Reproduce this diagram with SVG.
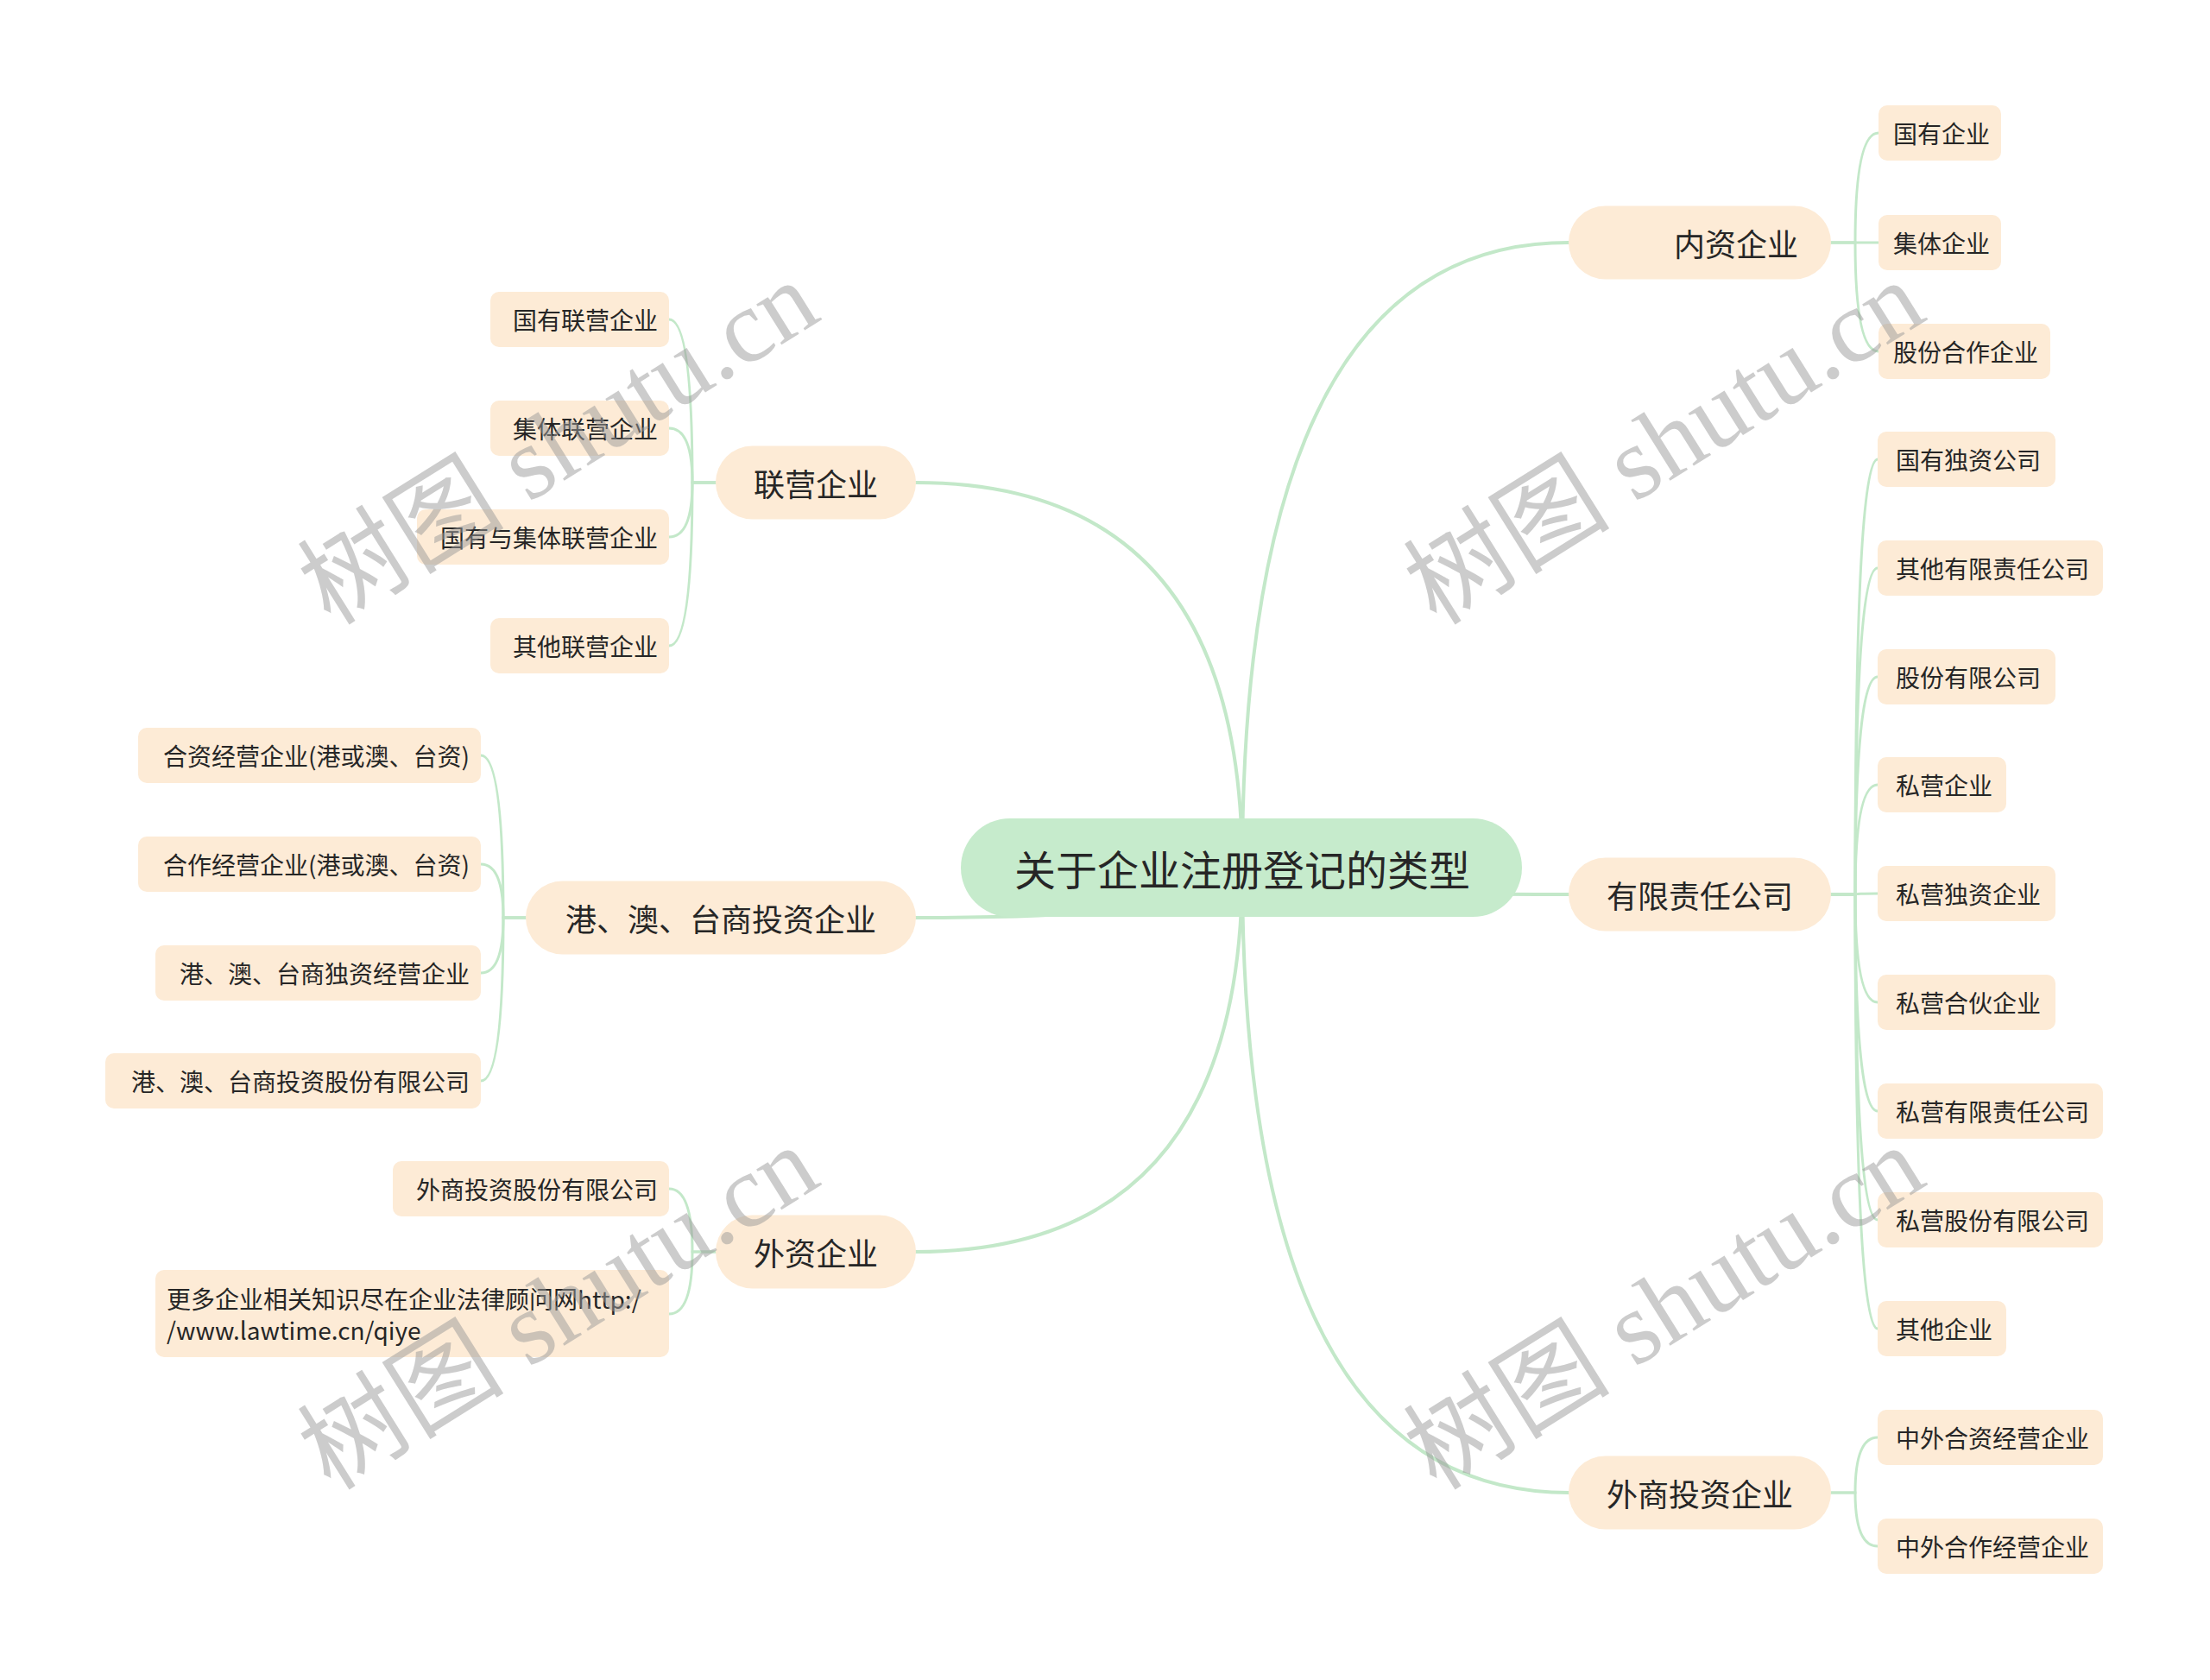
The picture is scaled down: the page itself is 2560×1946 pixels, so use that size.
<svg xmlns="http://www.w3.org/2000/svg" width="2560" height="1946" viewBox="0 0 2560 1946">
<style>
.c1{fill:none;stroke:#c3e8c9;stroke-width:4;stroke-linecap:round}
.c2{fill:none;stroke:#c3e8c9;stroke-width:3;stroke-linecap:round}
.n{fill:#fdebd6}
.r{fill:#c6ebcc}
.t{font-family:"Noto Sans CJK SC","Liberation Sans",sans-serif;fill:#262626;dominant-baseline:central}
.t0{font-size:48px}
.t1{font-size:36px}
.t2{font-size:28px}
.wm{font-family:"Liberation Serif","Noto Sans CJK SC",serif;font-size:120px;fill:#9a9a9a;opacity:.5;text-anchor:middle;dominant-baseline:central}
</style>
<rect width="2560" height="1946" fill="#ffffff"/>
<g id="connectors">
<path class="c1" d="M1439 1005 Q1439 281 1817 281"/>
<path class="c1" d="M1439 1005 Q1439 1036 1817 1036"/>
<path class="c1" d="M1439 1005 Q1439 1729 1817 1729"/>
<path class="c1" d="M1439 1005 Q1439 559 1061 559"/>
<path class="c1" d="M1439 1005 Q1439 1063 1061 1063"/>
<path class="c1" d="M1439 1005 Q1439 1450 1061 1450"/>
<path class="c2" d="M2121 281 L2149 281 Q2149 154 2176 154"/>
<path class="c2" d="M2121 281 L2176 281"/>
<path class="c2" d="M2121 281 L2149 281 Q2149 407 2176 407"/>
<path class="c2" d="M2121 1036 L2149 1036 Q2149 532 2175 532"/>
<path class="c2" d="M2121 1036 L2149 1036 Q2149 658 2175 658"/>
<path class="c2" d="M2121 1036 L2149 1036 Q2149 784 2175 784"/>
<path class="c2" d="M2121 1036 L2149 1036 Q2149 909 2175 909"/>
<path class="c2" d="M2121 1036 L2149 1036 Q2149 1035 2175 1035"/>
<path class="c2" d="M2121 1036 L2149 1036 Q2149 1161 2175 1161"/>
<path class="c2" d="M2121 1036 L2149 1036 Q2149 1287 2175 1287"/>
<path class="c2" d="M2121 1036 L2149 1036 Q2149 1413 2175 1413"/>
<path class="c2" d="M2121 1036 L2149 1036 Q2149 1539 2175 1539"/>
<path class="c2" d="M2121 1729 L2149 1729 Q2149 1665 2175 1665"/>
<path class="c2" d="M2121 1729 L2149 1729 Q2149 1791 2175 1791"/>
<path class="c2" d="M829 559 L802 559 Q802 370 775 370"/>
<path class="c2" d="M829 559 L802 559 Q802 496 775 496"/>
<path class="c2" d="M829 559 L802 559 Q802 622 775 622"/>
<path class="c2" d="M829 559 L802 559 Q802 748 775 748"/>
<path class="c2" d="M609 1063 L583 1063 Q583 875 557 875"/>
<path class="c2" d="M609 1063 L583 1063 Q583 1001 557 1001"/>
<path class="c2" d="M609 1063 L583 1063 Q583 1127 557 1127"/>
<path class="c2" d="M609 1063 L583 1063 Q583 1252 557 1252"/>
<path class="c2" d="M829 1450 L802 1450 Q802 1377 775 1377"/>
<path class="c2" d="M829 1450 L802 1450 Q802 1522 775 1522"/>
</g>
<g id="root"><rect class="r" x="1113" y="948" width="650" height="114" rx="57"/><text class="t t0" x="1439" y="1005" text-anchor="middle">关于企业注册登记的类型</text></g>
<g id="n-neizi"><rect class="n" x="1817" y="238.5" width="304" height="85" rx="42.5"/><text class="t t1" x="2083" y="281" text-anchor="end">内资企业</text></g>
<g id="n-youxian"><rect class="n" x="1817" y="993.5" width="304" height="85" rx="42.5"/><text class="t t1" x="1969" y="1036" text-anchor="middle">有限责任公司</text></g>
<g id="n-waishang"><rect class="n" x="1817" y="1686.5" width="304" height="85" rx="42.5"/><text class="t t1" x="1969" y="1729" text-anchor="middle">外商投资企业</text></g>
<g id="n-lianying"><rect class="n" x="829" y="516.5" width="232" height="85" rx="42.5"/><text class="t t1" x="945" y="559" text-anchor="middle">联营企业</text></g>
<g id="n-gangao"><rect class="n" x="609" y="1020.5" width="452" height="85" rx="42.5"/><text class="t t1" x="835" y="1063" text-anchor="middle">港、澳、台商投资企业</text></g>
<g id="n-waizi"><rect class="n" x="829" y="1407.5" width="232" height="85" rx="42.5"/><text class="t t1" x="945" y="1450" text-anchor="middle">外资企业</text></g>
<g id="n-guoyou"><rect class="n" x="2176" y="122" width="142" height="64" rx="10"/><text class="t t2" x="2193" y="154">国有企业</text></g>
<g id="n-jiti"><rect class="n" x="2176" y="249" width="142" height="64" rx="10"/><text class="t t2" x="2193" y="281">集体企业</text></g>
<g id="n-gufenhezuo"><rect class="n" x="2176" y="375" width="199" height="64" rx="10"/><text class="t t2" x="2193" y="407">股份合作企业</text></g>
<g id="n-guoyoudz"><rect class="n" x="2175" y="500" width="206" height="64" rx="10"/><text class="t t2" x="2196" y="532">国有独资公司</text></g>
<g id="n-qitayx"><rect class="n" x="2175" y="626" width="261" height="64" rx="10"/><text class="t t2" x="2196" y="658">其他有限责任公司</text></g>
<g id="n-gufenyx"><rect class="n" x="2175" y="752" width="206" height="64" rx="10"/><text class="t t2" x="2196" y="784">股份有限公司</text></g>
<g id="n-siying"><rect class="n" x="2175" y="877" width="149" height="64" rx="10"/><text class="t t2" x="2196" y="909">私营企业</text></g>
<g id="n-siyingdz"><rect class="n" x="2175" y="1003" width="206" height="64" rx="10"/><text class="t t2" x="2196" y="1035">私营独资企业</text></g>
<g id="n-siyinghh"><rect class="n" x="2175" y="1129" width="206" height="64" rx="10"/><text class="t t2" x="2196" y="1161">私营合伙企业</text></g>
<g id="n-siyingyx"><rect class="n" x="2175" y="1255" width="261" height="64" rx="10"/><text class="t t2" x="2196" y="1287">私营有限责任公司</text></g>
<g id="n-siyinggf"><rect class="n" x="2175" y="1381" width="261" height="64" rx="10"/><text class="t t2" x="2196" y="1413">私营股份有限公司</text></g>
<g id="n-qita"><rect class="n" x="2175" y="1507" width="149" height="64" rx="10"/><text class="t t2" x="2196" y="1539">其他企业</text></g>
<g id="n-zwhz"><rect class="n" x="2175" y="1633" width="261" height="64" rx="10"/><text class="t t2" x="2196" y="1665">中外合资经营企业</text></g>
<g id="n-zwhzuo"><rect class="n" x="2175" y="1759" width="261" height="64" rx="10"/><text class="t t2" x="2196" y="1791">中外合作经营企业</text></g>
<g id="n-gylx"><rect class="n" x="568" y="338" width="207" height="64" rx="10"/><text class="t t2" x="762" y="370" text-anchor="end">国有联营企业</text></g>
<g id="n-jtlx"><rect class="n" x="568" y="464" width="207" height="64" rx="10"/><text class="t t2" x="762" y="496" text-anchor="end">集体联营企业</text></g>
<g id="n-gyjtlx"><rect class="n" x="483" y="590" width="292" height="64" rx="10"/><text class="t t2" x="762" y="622" text-anchor="end">国有与集体联营企业</text></g>
<g id="n-qtlx"><rect class="n" x="568" y="716" width="207" height="64" rx="10"/><text class="t t2" x="762" y="748" text-anchor="end">其他联营企业</text></g>
<g id="n-hzjy"><rect class="n" x="160" y="843" width="397" height="64" rx="10"/><text class="t t2" x="544" y="875" text-anchor="end">合资经营企业(港或澳、台资)</text></g>
<g id="n-hzuojy"><rect class="n" x="160" y="969" width="397" height="64" rx="10"/><text class="t t2" x="544" y="1001" text-anchor="end">合作经营企业(港或澳、台资)</text></g>
<g id="n-gatdz"><rect class="n" x="180" y="1095" width="377" height="64" rx="10"/><text class="t t2" x="544" y="1127" text-anchor="end">港、澳、台商独资经营企业</text></g>
<g id="n-gatgf"><rect class="n" x="122" y="1220" width="435" height="64" rx="10"/><text class="t t2" x="544" y="1252" text-anchor="end">港、澳、台商投资股份有限公司</text></g>
<g id="n-wsgf"><rect class="n" x="455" y="1345" width="320" height="64" rx="10"/><text class="t t2" x="762" y="1377" text-anchor="end">外商投资股份有限公司</text></g>
<g id="n-more"><rect class="n" x="180" y="1471" width="595" height="101" rx="10"/><text class="t t2" x="193" y="1504">更多企业相关知识尽在企业法律顾问网http:/</text><text class="t t2" x="193" y="1540">/www.lawtime.cn/qiye</text></g>
<g id="watermark">
<text class="wm" transform="translate(647 513) rotate(-32)">树图 shutu.cn</text>
<text class="wm" transform="translate(1928 513) rotate(-32)">树图 shutu.cn</text>
<text class="wm" transform="translate(647 1515) rotate(-32)">树图 shutu.cn</text>
<text class="wm" transform="translate(1928 1515) rotate(-32)">树图 shutu.cn</text>
</g>
</svg>
